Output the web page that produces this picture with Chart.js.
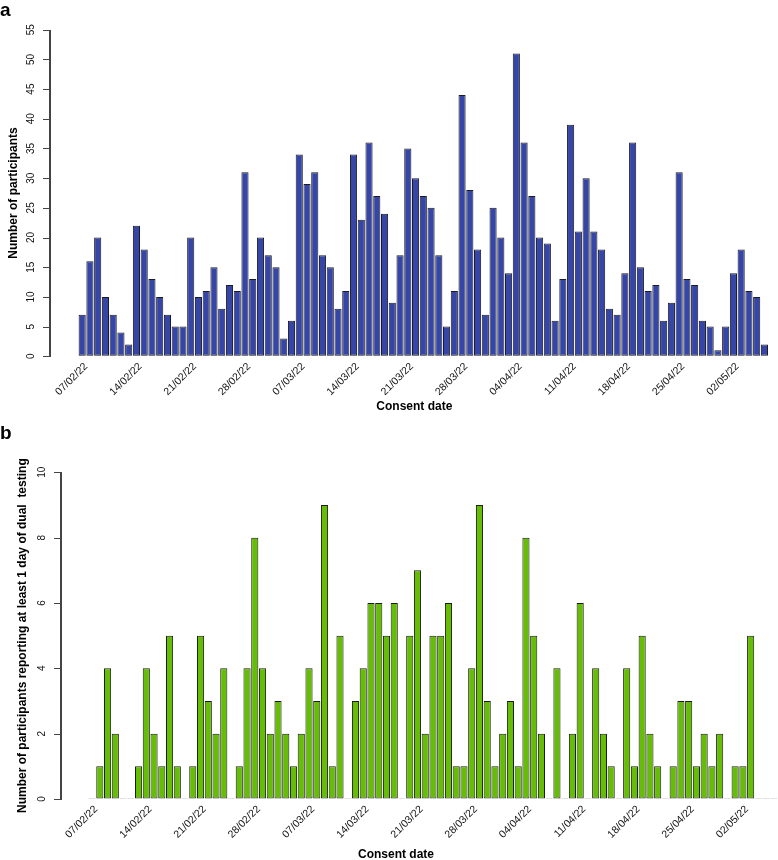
<!DOCTYPE html>
<html>
<head>
<meta charset="utf-8">
<title>Consent date bar charts</title>
<script src="https://cdn.jsdelivr.net/npm/chart.js@4.4.1/dist/chart.umd.min.js"></script>
<style>
  html, body { margin: 0; padding: 0; background: #fff; }
  #wrap { position: relative; width: 778px; height: 860px; }
  .panel { position: absolute; left: 0; }
  #boxA { top: 0; }
  #boxB { top: 420px; }
</style>
</head>
<body>
<div id="wrap">
  <div class="panel" id="boxA"><canvas id="chartA" width="778" height="420"></canvas></div>
  <div class="panel" id="boxB"><canvas id="chartB" width="778" height="440"></canvas></div>
</div>
<script>
/* =========================================
   DATA
========================================= */
const consentDates = [
  "07/02/22", "08/02/22", "09/02/22", "10/02/22", "11/02/22", "12/02/22", "13/02/22",
  "14/02/22", "15/02/22", "16/02/22", "17/02/22", "18/02/22", "19/02/22", "20/02/22",
  "21/02/22", "22/02/22", "23/02/22", "24/02/22", "25/02/22", "26/02/22", "27/02/22",
  "28/02/22", "01/03/22", "02/03/22", "03/03/22", "04/03/22", "05/03/22", "06/03/22",
  "07/03/22", "08/03/22", "09/03/22", "10/03/22", "11/03/22", "12/03/22", "13/03/22",
  "14/03/22", "15/03/22", "16/03/22", "17/03/22", "18/03/22", "19/03/22", "20/03/22",
  "21/03/22", "22/03/22", "23/03/22", "24/03/22", "25/03/22", "26/03/22", "27/03/22",
  "28/03/22", "29/03/22", "30/03/22", "31/03/22", "01/04/22", "02/04/22", "03/04/22",
  "04/04/22", "05/04/22", "06/04/22", "07/04/22", "08/04/22", "09/04/22", "10/04/22",
  "11/04/22", "12/04/22", "13/04/22", "14/04/22", "15/04/22", "16/04/22", "17/04/22",
  "18/04/22", "19/04/22", "20/04/22", "21/04/22", "22/04/22", "23/04/22", "24/04/22",
  "25/04/22", "26/04/22", "27/04/22", "28/04/22", "29/04/22", "30/04/22", "01/05/22",
  "02/05/22", "03/05/22", "04/05/22", "05/05/22", "06/05/22"
];

// panel a: participants consented per day
const participants = [
  7, 16, 20, 10, 7, 4, 2,
  22, 18, 13, 10, 7, 5, 5,
  20, 10, 11, 15, 8, 12, 11,
  31, 13, 20, 17, 15, 3, 6,
  34, 29, 31, 17, 15, 8, 11,
  34, 23, 36, 27, 24, 9, 17,
  35, 30, 27, 25, 17, 5, 11,
  44, 28, 18, 7, 25, 20, 14,
  51, 36, 27, 20, 19, 6, 13,
  39, 21, 30, 21, 18, 8, 7,
  14, 36, 15, 11, 12, 6, 9,
  31, 13, 12, 6, 5, 1, 5,
  14, 18, 11, 10, 2
];

// panel b: participants reporting at least 1 day of dual testing
const dualTesting = [
  0, 1, 4, 2, 0, 0, 1,
  4, 2, 1, 5, 1, 0, 1,
  5, 3, 2, 4, 0, 1, 4,
  8, 4, 2, 3, 2, 1, 2,
  4, 3, 9, 1, 5, 0, 3,
  4, 6, 6, 5, 6, 0, 5,
  7, 2, 5, 5, 6, 1, 1,
  4, 9, 3, 1, 2, 3, 1,
  8, 5, 2, 0, 4, 0, 2,
  6, 0, 4, 2, 1, 0, 4,
  1, 5, 2, 1, 0, 1, 3,
  3, 1, 2, 1, 2, 0, 1,
  1, 5, 0, 0, 0
];

const tickLabels = [
  "07/02/22", "14/02/22", "21/02/22", "28/02/22", "07/03/22", "14/03/22", "21/03/22",
  "28/03/22", "04/04/22", "11/04/22", "18/04/22", "25/04/22", "02/05/22"
];

/* =========================================
   SHARED STYLE
========================================= */
const FONT = '"Liberation Sans", Arial, Helvetica, sans-serif';
const INK = "#111";
const AXIS = "#444";
const TICK_LEN = 6;

function points(values) {
  return consentDates.map((d, i) => ({ x: i, y: values[i] }));
}

function dateTicks(scale) {
  scale.ticks = tickLabels.map(t => ({ value: consentDates.indexOf(t) }));
}

// R-style left axis: line from min to max plus outward tick marks
const yAxisLine = {
  id: "yAxisLine",
  afterDraw(chart) {
    const y = chart.scales.y;
    const ctx = chart.ctx;
    const x = Math.round(y.right) - 2;
    const top = Math.round(y.getPixelForValue(y.max));
    const bottom = Math.round(y.getPixelForValue(y.min));
    ctx.save();
    ctx.fillStyle = AXIS;
    ctx.fillRect(x, top, 2, bottom - top + 1);
    y.ticks.forEach(t => {
      const py = Math.round(y.getPixelForValue(t.value));
      ctx.fillRect(x - TICK_LEN, py, TICK_LEN, 1);
    });
    ctx.restore();
  }
};

function panel(canvasId, opts) {
  return new Chart(document.getElementById(canvasId), {
    type: "bar",
    data: {
      datasets: [{
        data: points(opts.values),
        backgroundColor: opts.color,
        borderColor: ctx => (ctx.parsed && ctx.parsed.y === 0) ? "#8c8c8c" : "#1c1c1c",
        borderWidth: 1,
        borderSkipped: false,
        minBarLength: opts.minBar || 0,
        barPercentage: 0.92,
        categoryPercentage: 1
      }]
    },
    options: {
      responsive: false,
      animation: false,
      events: [],
      layout: { padding: 0 },
      plugins: {
        legend: { display: false },
        tooltip: { enabled: false },
        title: {
          display: true,
          text: opts.letter,
          align: "start",
          color: "#000",
          font: { family: FONT, size: 19, weight: "bold", lineHeight: 1.1 },
          padding: opts.letterPad
        }
      },
      scales: {
        x: {
          type: "linear",
          offset: false,
          min: opts.xMin,
          max: opts.xMax,
          afterBuildTicks: dateTicks,
          afterFit: s => { s.height = opts.xHeight; },
          ticks: {
            autoSkip: false,
            minRotation: 45,
            maxRotation: 45,
            labelOffset: 4,
            padding: 4,
            color: INK,
            font: { family: FONT, size: 10.5 },
            callback: v => consentDates[v]
          },
          grid: { display: false, drawTicks: false, offset: false },
          border: { display: false },
          title: {
            display: opts.xTitle,
            text: "Consent date",
            color: "#000",
            font: { family: FONT, size: 12, weight: "bold" },
            padding: { top: 0, bottom: 5.8 }
          }
        },
        y: {
          min: 0,
          max: opts.yMax,
          afterFit: s => { s.width = opts.yWidth; },
          ticks: {
            stepSize: opts.yStep,
            minRotation: 90,
            maxRotation: 90,
            crossAlign: "center",
            padding: 7.5,
            color: INK,
            font: { family: FONT, size: 10 }
          },
          grid: { display: true, drawOnChartArea: false, drawTicks: true, tickLength: TICK_LEN, color: "rgba(0,0,0,0)" },
          border: { display: false },
          title: {
            display: true,
            text: opts.yTitle,
            color: "#000",
            font: { family: FONT, size: 12, weight: "bold" },
            padding: { top: opts.yTitlePad, bottom: 0 }
          }
        }
      }
    },
    plugins: [yAxisLine].concat(opts.plugins || [])
  });
}

/* =========================================
   PANEL A
========================================= */
panel("chartA", {
  values: participants,
  color: "#3646A8",
  letter: "a",
  letterPad: { top: 0, bottom: 8.8 },
  xMin: -4.06,
  xMax: 89.75,
  xHeight: 63.7,
  xTitle: true,
  yMax: 55,
  yStep: 5,
  yWidth: 50.7,
  yTitle: "Number of participants",
  yTitlePad: 6.8
});

/* =========================================
   PANEL B (x title sits left of centre in the original)
========================================= */
const xTitleB = {
  id: "xTitleB",
  afterDraw(chart) {
    const ctx = chart.ctx;
    ctx.save();
    ctx.font = "bold 12px " + FONT;
    ctx.fillStyle = "#000";
    ctx.textAlign = "center";
    ctx.textBaseline = "middle";
    ctx.fillText("Consent date", 396, 434.5);
    ctx.restore();
  }
};

panel("chartB", {
  values: dualTesting,
  color: "#66BD05",
  minBar: 1,
  letter: "b",
  letterPad: { top: 3, bottom: 28.4 },
  xMin: -3.92,
  xMax: 88.53,
  xHeight: 61,
  xTitle: false,
  yMax: 10,
  yStep: 2,
  yWidth: 61.7,
  yTitle: "Number of participants reporting at least 1 day of dual  testing",
  yTitlePad: 15.8,
  plugins: [xTitleB]
});
</script>
</body>
</html>
